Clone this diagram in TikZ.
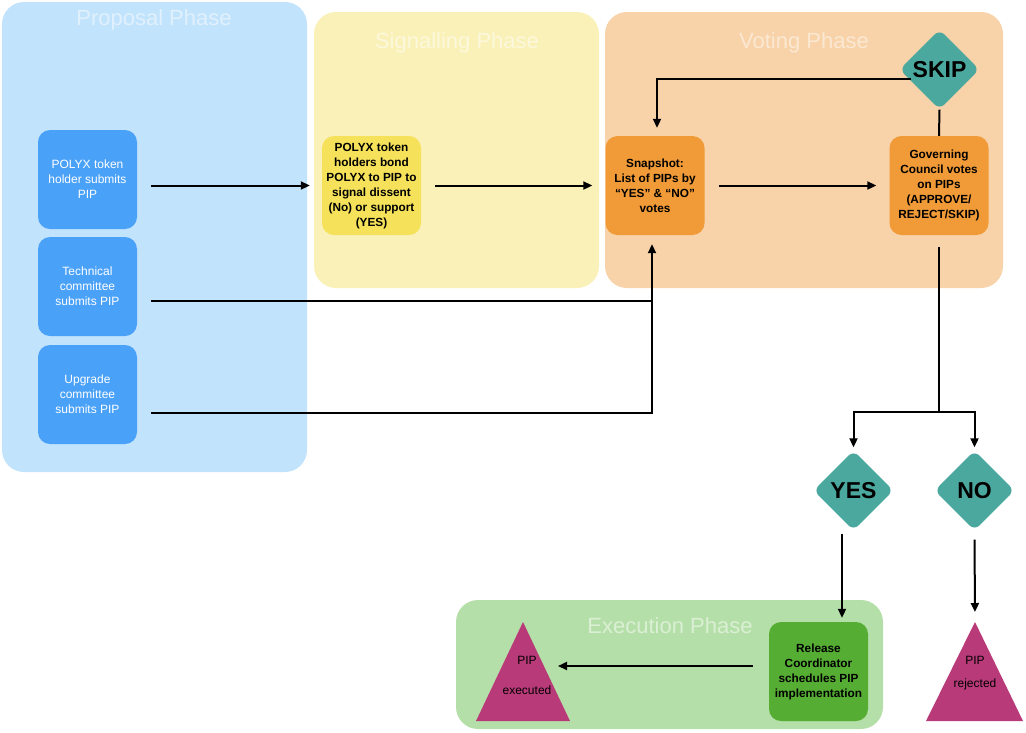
\documentclass[tikz,border=0pt]{standalone}
\usepackage{fontspec}
\setmainfont{Liberation Sans}
\usepackage{xcolor}
\usepackage{tikz}
\usetikzlibrary{positioning,calc,shapes.geometric,arrows.meta}
\definecolor{PropBg}{RGB}{194,227,252}
\definecolor{PropBlue}{RGB}{74,161,248}
\definecolor{SigBg}{RGB}{250,241,185}
\definecolor{SigYellow}{RGB}{245,225,90}
\definecolor{VoteBg}{RGB}{248,210,168}
\definecolor{VoteOrange}{RGB}{240,154,56}
\definecolor{ExecBg}{RGB}{181,223,168}
\definecolor{ExecGreen}{RGB}{85,174,51}
\definecolor{DecTeal}{RGB}{75,168,159}
\definecolor{PipMagenta}{RGB}{185,58,120}
\tikzset{
    phase/.style={rounded corners=22pt},
    phasetitle/.style={text=white, text opacity=0.5, font=\fontsize{22}{24}\selectfont},
    stepbox/.style={rectangle, rounded corners=12pt, minimum width=99pt, minimum height=99pt, inner sep=2pt, align=center, font=\fontsize{12}{15}\selectfont},
    propbox/.style={stepbox, fill=PropBlue, text=white},
    actbox/.style={stepbox, font=\bfseries\fontsize{11.8}{15}\selectfont},
    choice/.style={diamond, fill=DecTeal, minimum width=80pt, minimum height=80pt, inner sep=0pt, rounded corners=7pt, font=\bfseries\fontsize{23}{23}\selectfont},
    pipmark/.style={fill=PipMagenta},
    piptext/.style={inner sep=0pt, font=\fontsize{12}{13}\selectfont},
    line/.style={draw=black, line width=2pt},
    arr/.style={line, -{Triangle[length=9pt,width=8pt]}},
    gap/.style={shorten <=14pt, shorten >=13pt}
}
\begin{document}
\begin{tikzpicture}[x=1pt,y=-1pt]
    \useasboundingbox (0,0) rectangle (1026,732);
    % phases
    \fill[PropBg, phase] (2,2) rectangle (307,472);
    \fill[SigBg, phase] (314,12) rectangle (599,288);
    \fill[VoteBg, phase] (605,12) rectangle (1003,288);
    \fill[ExecBg, phase] (456,600) rectangle (883,729);
    \node[phasetitle] (propT) at (154,20) {Proposal Phase};
    \node[phasetitle] (sigT) at (457,43) {Signalling Phase};
    \node[phasetitle] (voteT) at (804,43) {Voting Phase};
    \node[phasetitle] (execT) at (670,626) {Execution Phase};

    % proposal
    \node[propbox] (polyx) at (87.5,179.5) {POLYX token\\holder submits\\PIP};
    \node[propbox] (tech) at (87.5,286.5) {Technical\\committee\\submits PIP};
    \node[propbox] (upg) at (87.5,394.5) {Upgrade\\committee\\submits PIP};

    % signalling and voting
    \node[actbox, fill=SigYellow] (signal) at (371.5,185.5) {POLYX token\\holders bond\\POLYX to PIP to\\signal dissent\\(No) or support\\(YES)};
    \node[actbox, fill=VoteOrange] (snap) at (655,185.5) {Snapshot:\\List of PIPs by\\``YES'' \& ``NO''\\votes};
    \node[actbox, fill=VoteOrange] (council) at (939,185.5) {Governing\\Council votes\\on PIPs\\(APPROVE/\\REJECT/SKIP)};
    \node[choice] (skip) at (939.5,69.5) {SKIP};

    % outcome
    \node[choice] (yes) at (853.5,490.5) {YES};
    \node[choice] (no) at (974.5,490.5) {NO};
    \node[actbox, fill=ExecGreen] (rel) at (818.5,671.5) {Release\\Coordinator\\schedules PIP\\implementation};

    % PIP ends
    \fill[pipmark] (523,622) -- (570,721) -- (476,721) -- cycle;
    \fill[pipmark] (975,622) -- (1023,721) -- (926,721) -- cycle;
    \node[piptext] (execA) at (527,660) {PIP};
    \node[piptext] (execB) at (527,690) {executed};
    \node[piptext] (rejA) at (975,660) {PIP};
    \node[piptext] (rejB) at (975,684) {rejected};
    \coordinate (execR) at (544,666);
    \coordinate (rejTop) at (975,622);

    % connectors
    \draw[arr, shorten <=14pt, shorten >=12pt] (polyx.east |- signal.west) -- (signal.west);
    \draw[arr, gap] (signal.east) -- (snap.west);
    \draw[arr, gap] (snap.east) -- (council.west);
    \draw[line] (council.north) -- (skip.south);
    \coordinate (skipL) at (911,79);
    \draw[arr, shorten >=8pt] (skipL) -| ($(snap.north)+(2,0)$);
    \coordinate (tJoin) at (652,300.5);
    \draw[arr, shorten <=14pt, shorten >=9pt] ($(tech.east)+(0,14)$) -| ($(snap.south)+(-3,0)$);
    \draw[line, shorten <=14pt] ($(upg.east)+(0,18)$) -| (tJoin);
    \coordinate (split) at (939,412);
    \draw[line, shorten <=12pt] (council.south) -- (split);
    \draw[arr, shorten >=3pt] (split) -| (yes.north);
    \draw[arr, shorten >=3pt] (split) -| (no.north);
    \coordinate (yBot) at ($(yes.south)+(-11.5,3)$);
    \draw[arr, shorten >=4pt] (yBot) -- (yBot |- rel.north);
    \draw[arr, shorten <=9pt, shorten >=10pt] (no.south) -- (rejTop);
    \draw[arr, shorten <=16pt, shorten >=14pt] ($(rel.west)+(0,-5.5)$) -- (execR);
\end{tikzpicture}
\end{document}
